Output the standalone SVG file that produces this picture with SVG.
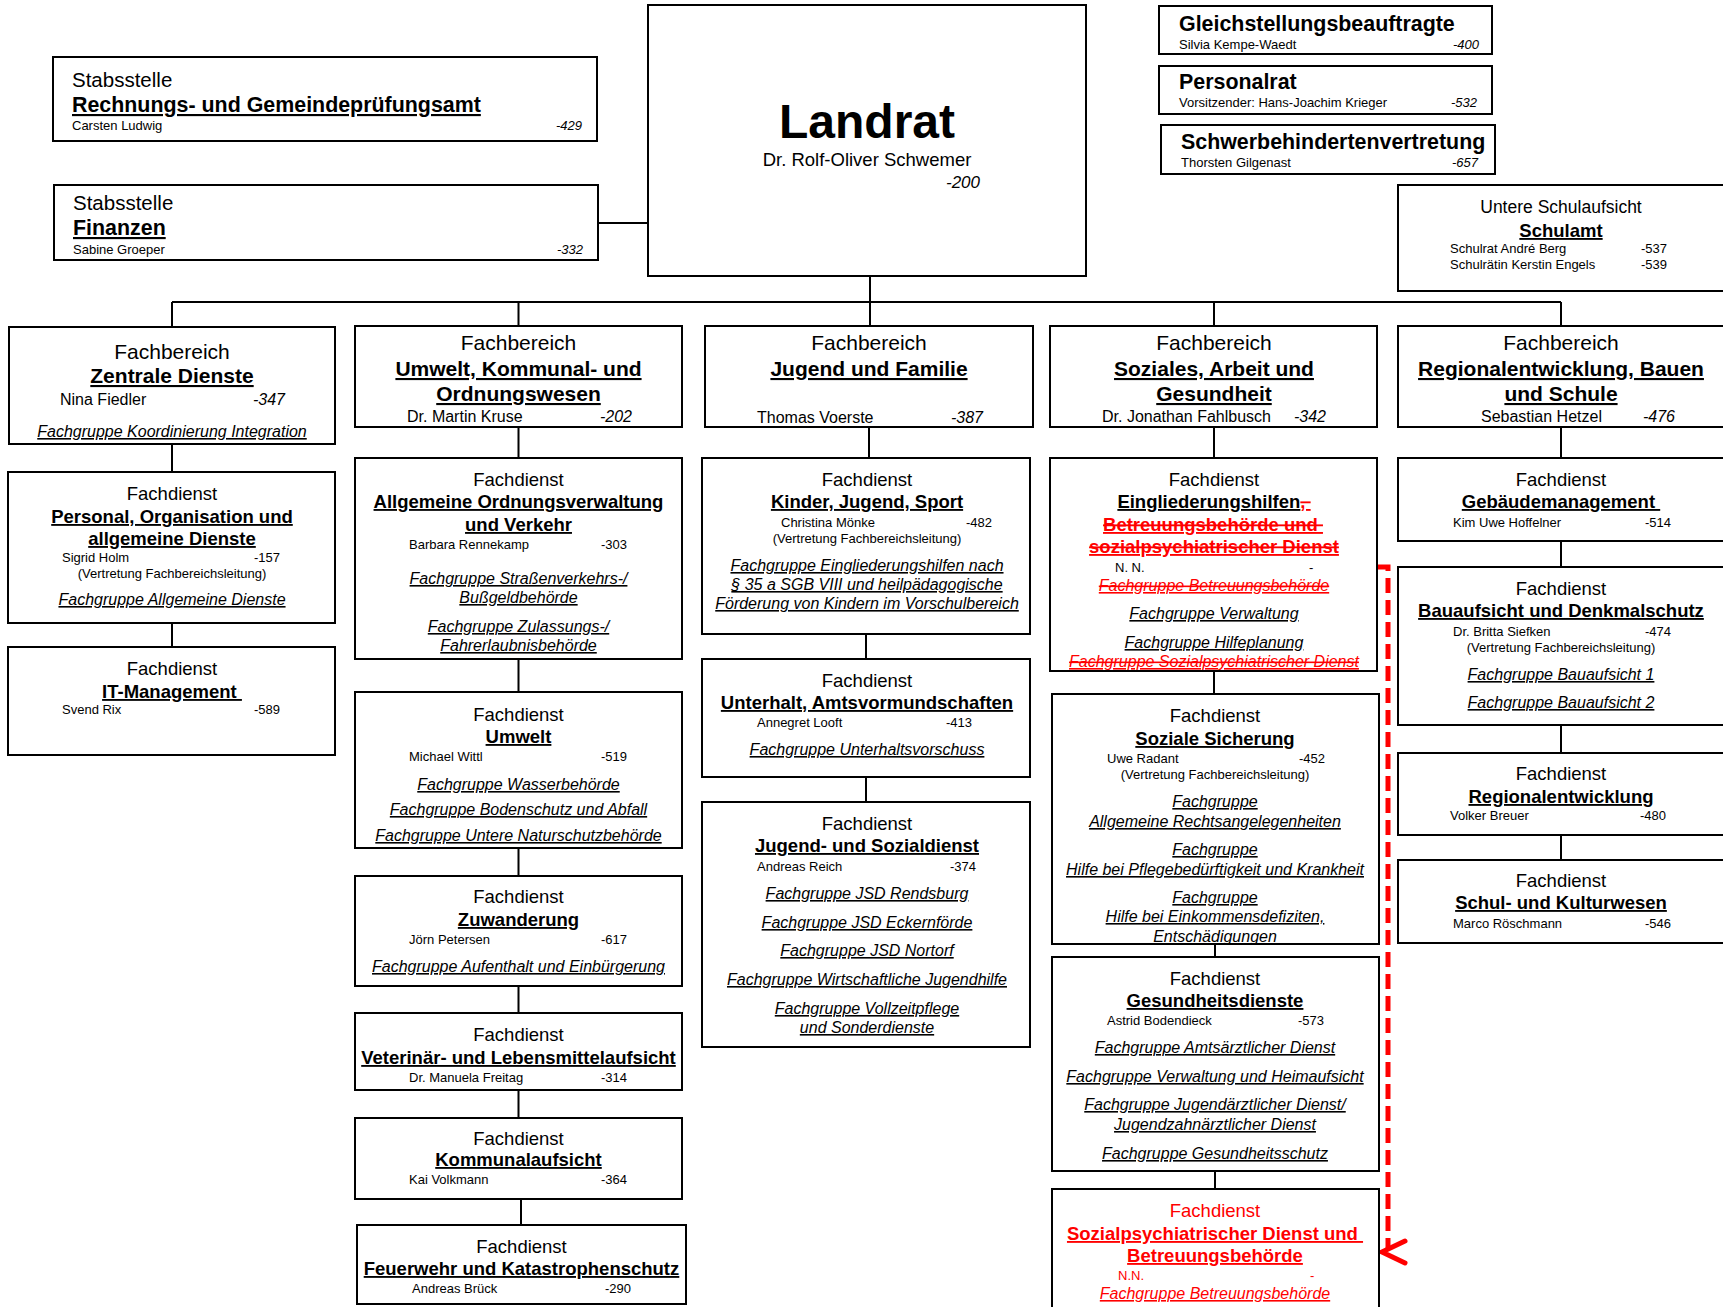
<svg xmlns="http://www.w3.org/2000/svg" width="1723" height="1307" viewBox="0 0 1723 1307" font-family="'Liberation Sans', Arial, Helvetica, sans-serif">
<style>
.box{fill:#fff;stroke:#000;stroke-width:2}
.ln{stroke:#000;stroke-width:2;fill:none}
text{fill:#000}
.c{text-anchor:middle}
.e{text-anchor:end}
.fb{font-size:21px}
.fbt{font-size:21px;font-weight:bold;text-decoration:underline}
.fbn{font-size:16px}
.fd{font-size:18.5px}
.fdt{font-size:18.5px;font-weight:bold;text-decoration:underline}
.fdb{font-size:18.5px;font-weight:bold}
.u{text-decoration:underline}
.nm{font-size:13px}
.it{font-style:italic}
.fg{font-size:16px;font-style:italic;text-decoration:underline}
.red{fill:#ff0000}
.st{text-decoration:underline line-through}
.top{font-size:21.4px;font-weight:bold}
</style>

<g id="connectors">
<path class="ln" d="M598,223 H648"/>
<path class="ln" d="M870,276 V326 M172,302 H1561 M172,302 V327 M518.5,302 V326 M1214,302 V326 M1561,302 V326"/>
<path class="ln" d="M172,444 V472 M172,623 V647"/>
<path class="ln" d="M518.5,427 V458 M518.5,659 V692 M518.5,848 V876 M518.5,986 V1013 M518.5,1090 V1118 M521,1199 V1225"/>
<path class="ln" d="M869,427 V458 M866,634 V659 M866,777 V802"/>
<path class="ln" d="M1214,427 V458 M1214,671 V694 M1215,944 V957 M1215,1171 V1189"/>
<path class="ln" d="M1561,427 V458 M1561,541 V567 M1561,725 V753 M1561,835 V860"/>
<path d="M1377,567 H1388 V1250" fill="none" stroke="#ff0000" stroke-width="5" stroke-dasharray="15 7"/>
<path d="M1405,1241 L1382,1252 L1405,1263" fill="none" stroke="#ff0000" stroke-width="5" stroke-linecap="round" stroke-linejoin="miter"/>
</g>

<g id="rpa">
<rect class="box" x="53" y="57" width="544" height="84"/>
<text x="72" y="87" style="font-size:20.5px">Stabsstelle</text>
<text class="top u" x="72" y="112">Rechnungs- und Gemeindeprüfungsamt</text>
<text class="nm" x="72" y="130">Carsten Ludwig</text>
<text class="nm it e" x="582" y="130">-429</text>
</g>

<g id="finanzen">
<rect class="box" x="54" y="185" width="544" height="75"/>
<text x="73" y="210" style="font-size:20.5px">Stabsstelle</text>
<text class="top u" x="73" y="235">Finanzen</text>
<text class="nm" x="73" y="254">Sabine Groeper</text>
<text class="nm it e" x="583" y="254">-332</text>
</g>

<g id="landrat">
<rect class="box" x="648" y="5" width="438" height="271"/>
<text class="c" x="867" y="138" style="font-size:48px;font-weight:bold">Landrat</text>
<text class="c" x="867" y="166" style="font-size:18.5px">Dr. Rolf-Oliver Schwemer</text>
<text class="e it" x="980" y="188" style="font-size:17px">-200</text>
</g>

<g id="gleichstellung">
<rect class="box" x="1159" y="6" width="333" height="48"/>
<text class="top" x="1179" y="31">Gleichstellungsbeauftragte</text>
<text class="nm" x="1179" y="48.5">Silvia Kempe-Waedt</text>
<text class="nm it e" x="1479" y="48.5">-400</text>
</g>

<g id="personalrat">
<rect class="box" x="1159" y="66" width="333" height="48"/>
<text class="top" x="1179" y="89">Personalrat</text>
<text class="nm" x="1179" y="107">Vorsitzender: Hans-Joachim Krieger</text>
<text class="nm it e" x="1477" y="107">-532</text>
</g>

<g id="schwerbehinderten">
<rect class="box" x="1161" y="125" width="334" height="49"/>
<text class="top" x="1181" y="149">Schwerbehindertenvertretung</text>
<text class="nm" x="1181" y="167">Thorsten Gilgenast</text>
<text class="nm it e" x="1478" y="167">-657</text>
</g>

<g id="schulamt">
<rect class="box" x="1398" y="185" width="340" height="106"/>
<text class="c" x="1561" y="213" style="font-size:17.5px">Untere Schulaufsicht</text>
<text class="c fdt" x="1561" y="237">Schulamt</text>
<text class="nm" x="1450" y="253">Schulrat André Berg</text>
<text class="nm" x="1641" y="253">-537</text>
<text class="nm" x="1450" y="269">Schulrätin Kerstin Engels</text>
<text class="nm" x="1641" y="269">-539</text>
</g>

<!-- Column 1 -->
<g id="fb-zentrale">
<rect class="box" x="9" y="327" width="326" height="117"/>
<text class="fb c" x="172" y="359">Fachbereich</text>
<text class="fbt c" x="172" y="383">Zentrale Dienste</text>
<text class="fbn" x="60" y="405">Nina Fiedler</text>
<text class="fbn it e" x="285" y="405">-347</text>
<text class="fg c" x="172" y="437">Fachgruppe Koordinierung Integration</text>
</g>
<g id="fd-personal">
<rect class="box" x="8" y="472" width="327" height="151"/>
<text class="fd c" x="172" y="500">Fachdienst</text>
<text class="fdt c" x="172" y="523">Personal, Organisation und</text>
<text class="fdt c" x="172" y="545">allgemeine Dienste</text>
<text class="nm" x="62" y="562">Sigrid Holm</text>
<text class="nm e" x="280" y="562">-157</text>
<text class="nm c" x="172" y="578">(Vertretung Fachbereichsleitung)</text>
<text class="fg c" x="172" y="605">Fachgruppe Allgemeine Dienste</text>
</g>
<g id="fd-it">
<rect class="box" x="8" y="647" width="327" height="108"/>
<text class="fd c" x="172" y="675">Fachdienst</text>
<text class="fdt c" x="172" y="698">IT-Management&#160;</text>
<text class="nm" x="62" y="714">Svend Rix</text>
<text class="nm e" x="280" y="714">-589</text>
</g>

<!-- Column 2 -->
<g id="fb-umwelt">
<rect class="box" x="355" y="326" width="327" height="101"/>
<text class="fb c" x="518.5" y="350">Fachbereich</text>
<text class="fbt c" x="518.5" y="376">Umwelt, Kommunal- und</text>
<text class="fbt c" x="518.5" y="401">Ordnungswesen</text>
<text class="fbn" x="407" y="422">Dr. Martin Kruse</text>
<text class="fbn it e" x="632" y="422">-202</text>
</g>
<g id="fd-ordnung">
<rect class="box" x="355" y="458" width="327" height="201"/>
<text class="fd c" x="518.5" y="486">Fachdienst</text>
<text class="fdt c" x="518.5" y="508">Allgemeine Ordnungsverwaltung</text>
<text class="fdt c" x="518.5" y="531">und Verkehr</text>
<text class="nm" x="409" y="549">Barbara Rennekamp</text>
<text class="nm e" x="627" y="549">-303</text>
<text class="fg c" x="518.5" y="584">Fachgruppe Straßenverkehrs-/</text>
<text class="fg c" x="518.5" y="603">Bußgeldbehörde</text>
<text class="fg c" x="518.5" y="632">Fachgruppe Zulassungs-/</text>
<text class="fg c" x="518.5" y="651">Fahrerlaubnisbehörde</text>
</g>
<g id="fd-umwelt">
<rect class="box" x="355" y="692" width="327" height="156"/>
<text class="fd c" x="518.5" y="721">Fachdienst</text>
<text class="fdt c" x="518.5" y="743">Umwelt</text>
<text class="nm" x="409" y="761">Michael Wittl</text>
<text class="nm e" x="627" y="761">-519</text>
<text class="fg c" x="518.5" y="790">Fachgruppe Wasserbehörde</text>
<text class="fg c" x="518.5" y="815">Fachgruppe Bodenschutz und Abfall</text>
<text class="fg c" x="518.5" y="841">Fachgruppe Untere Naturschutzbehörde</text>
</g>
<g id="fd-zuwanderung">
<rect class="box" x="355" y="876" width="327" height="110"/>
<text class="fd c" x="518.5" y="903">Fachdienst</text>
<text class="fdt c" x="518.5" y="926">Zuwanderung</text>
<text class="nm" x="409" y="944">Jörn Petersen</text>
<text class="nm e" x="627" y="944">-617</text>
<text class="fg c" x="518.5" y="972">Fachgruppe Aufenthalt und Einbürgerung</text>
</g>
<g id="fd-veterinaer">
<rect class="box" x="355" y="1013" width="327" height="77"/>
<text class="fd c" x="518.5" y="1041">Fachdienst</text>
<text class="fdt c" x="518.5" y="1064">Veterinär- und Lebensmittelaufsicht</text>
<text class="nm" x="409" y="1082">Dr. Manuela Freitag</text>
<text class="nm e" x="627" y="1082">-314</text>
</g>
<g id="fd-kommunal">
<rect class="box" x="355" y="1118" width="327" height="81"/>
<text class="fd c" x="518.5" y="1145">Fachdienst</text>
<text class="fdt c" x="518.5" y="1166">Kommunalaufsicht</text>
<text class="nm" x="409" y="1184">Kai Volkmann</text>
<text class="nm e" x="627" y="1184">-364</text>
</g>
<g id="fd-feuerwehr">
<rect class="box" x="357" y="1225" width="329" height="79"/>
<text class="fd c" x="521.5" y="1253">Fachdienst</text>
<text class="fdt c" x="521.5" y="1275">Feuerwehr und Katastrophenschutz</text>
<text class="nm" x="412" y="1293">Andreas Brück</text>
<text class="nm e" x="631" y="1293">-290</text>
</g>

<!-- Column 3 -->
<g id="fb-jugend">
<rect class="box" x="705" y="326" width="328" height="101"/>
<text class="fb c" x="869" y="350">Fachbereich</text>
<text class="fbt c" x="869" y="376">Jugend und Familie</text>
<text class="fbn" x="757" y="423">Thomas Voerste</text>
<text class="fbn it e" x="983" y="423">-387</text>
</g>
<g id="fd-kinder">
<rect class="box" x="702" y="458" width="328" height="176"/>
<text class="fd c" x="867" y="486">Fachdienst</text>
<text class="fdt c" x="867" y="508">Kinder, Jugend, Sport</text>
<text class="nm" x="781" y="527">Christina Mönke</text>
<text class="nm e" x="992" y="527">-482</text>
<text class="nm c" x="867" y="543">(Vertretung Fachbereichsleitung)</text>
<text class="fg c" x="867" y="571">Fachgruppe Eingliederungshilfen nach</text>
<text class="fg c" x="867" y="590">§ 35 a SGB VIII und heilpädagogische</text>
<text class="fg c" x="867" y="609">Förderung von Kindern im Vorschulbereich</text>
</g>
<g id="fd-unterhalt">
<rect class="box" x="702" y="659" width="328" height="118"/>
<text class="fd c" x="867" y="687">Fachdienst</text>
<text class="fdt c" x="867" y="709">Unterhalt, Amtsvormundschaften</text>
<text class="nm" x="757" y="727">Annegret Looft</text>
<text class="nm e" x="972" y="727">-413</text>
<text class="fg c" x="867" y="755">Fachgruppe Unterhaltsvorschuss</text>
</g>
<g id="fd-jsd">
<rect class="box" x="702" y="802" width="328" height="245"/>
<text class="fd c" x="867" y="830">Fachdienst</text>
<text class="fdt c" x="867" y="852">Jugend- und Sozialdienst</text>
<text class="nm" x="757" y="871">Andreas Reich</text>
<text class="nm e" x="976" y="871">-374</text>
<text class="fg c" x="867" y="899">Fachgruppe JSD Rendsburg</text>
<text class="fg c" x="867" y="928">Fachgruppe JSD Eckernförde</text>
<text class="fg c" x="867" y="956">Fachgruppe JSD Nortorf</text>
<text class="fg c" x="867" y="985">Fachgruppe Wirtschaftliche Jugendhilfe</text>
<text class="fg c" x="867" y="1014">Fachgruppe Vollzeitpflege</text>
<text class="fg c" x="867" y="1033">und Sonderdienste</text>
</g>

<!-- Column 4 -->
<g id="fb-soziales">
<rect class="box" x="1050" y="326" width="327" height="101"/>
<text class="fb c" x="1214" y="350">Fachbereich</text>
<text class="fbt c" x="1214" y="376">Soziales, Arbeit und</text>
<text class="fbt c" x="1214" y="401">Gesundheit</text>
<text class="fbn" x="1102" y="422">Dr. Jonathan Fahlbusch</text>
<text class="fbn it e" x="1326" y="422">-342</text>
</g>
<g id="fd-eingliederung">
<rect class="box" x="1050" y="458" width="327" height="213"/>
<text class="fd c" x="1214" y="486">Fachdienst</text>
<text class="fdb c" x="1214" y="508"><tspan class="u">Eingliederungshilfen</tspan><tspan class="red st">,&#160;</tspan></text>
<text class="fdb c red st" x="1213" y="531">Betreuungsbehörde und&#160;</text>
<text class="fdb c red st" x="1214" y="553">sozialpsychiatrischer Dienst</text>
<text class="nm" x="1115" y="572">N. N.</text>
<text class="nm" x="1309" y="572">-</text>
<text class="fg c red st" x="1214" y="591">Fachgruppe Betreuungsbehörde</text>
<text class="fg c" x="1214" y="619">Fachgruppe Verwaltung</text>
<text class="fg c" x="1214" y="648">Fachgruppe Hilfeplanung</text>
<text class="fg c red st" x="1214" y="667">Fachgruppe Sozialpsychiatrischer Dienst</text>
</g>
<g id="fd-sozialesicherung">
<rect class="box" x="1052" y="694" width="327" height="250"/>
<text class="fd c" x="1215" y="722">Fachdienst</text>
<text class="fdt c" x="1215" y="745">Soziale Sicherung</text>
<text class="nm" x="1107" y="763">Uwe Radant</text>
<text class="nm e" x="1325" y="763">-452</text>
<text class="nm c" x="1215" y="779">(Vertretung Fachbereichsleitung)</text>
<text class="fg c" x="1215" y="807">Fachgruppe</text>
<text class="fg c" x="1215" y="827">Allgemeine Rechtsangelegenheiten</text>
<text class="fg c" x="1215" y="855">Fachgruppe</text>
<text class="fg c" x="1215" y="875">Hilfe bei Pflegebedürftigkeit und Krankheit</text>
<text class="fg c" x="1215" y="903">Fachgruppe</text>
<text class="fg c" x="1215" y="922">Hilfe bei Einkommensdefiziten,</text>
<text class="fg c" x="1215" y="942">Entschädigungen</text>
</g>
<g id="fd-gesundheit">
<rect class="box" x="1052" y="957" width="327" height="214"/>
<text class="fd c" x="1215" y="985">Fachdienst</text>
<text class="fdt c" x="1215" y="1007">Gesundheitsdienste</text>
<text class="nm" x="1107" y="1025">Astrid Bodendieck</text>
<text class="nm e" x="1324" y="1025">-573</text>
<text class="fg c" x="1215" y="1053">Fachgruppe Amtsärztlicher Dienst</text>
<text class="fg c" x="1215" y="1082">Fachgruppe Verwaltung und Heimaufsicht</text>
<text class="fg c" x="1215" y="1110">Fachgruppe Jugendärztlicher Dienst/</text>
<text class="fg c" x="1215" y="1130">Jugendzahnärztlicher Dienst</text>
<text class="fg c" x="1215" y="1159">Fachgruppe Gesundheitsschutz</text>
</g>
<g id="fd-sozialpsychiatrie">
<rect class="box" x="1052" y="1189" width="327" height="130"/>
<text class="fd c red" x="1215" y="1217">Fachdienst</text>
<text class="fdt c red" x="1215" y="1240">Sozialpsychiatrischer Dienst und&#160;</text>
<text class="fdt c red" x="1215" y="1262">Betreuungsbehörde</text>
<text class="nm red" x="1118" y="1280">N.N.</text>
<text class="nm red" x="1310" y="1280">-</text>
<text class="fg c red" x="1215" y="1299">Fachgruppe Betreuungsbehörde</text>
</g>

<!-- Column 5 -->
<g id="fb-regional">
<rect class="box" x="1398" y="326" width="340" height="101"/>
<text class="fb c" x="1561" y="350">Fachbereich</text>
<text class="fbt c" x="1561" y="376">Regionalentwicklung, Bauen</text>
<text class="fbt c" x="1561" y="401">und Schule</text>
<text class="fbn" x="1481" y="422">Sebastian Hetzel</text>
<text class="fbn it e" x="1675" y="422">-476</text>
</g>
<g id="fd-gebaeude">
<rect class="box" x="1398" y="458" width="340" height="83"/>
<text class="fd c" x="1561" y="486">Fachdienst</text>
<text class="fdt c" x="1561" y="508">Gebäudemanagement&#160;</text>
<text class="nm" x="1453" y="527">Kim Uwe Hoffelner</text>
<text class="nm e" x="1671" y="527">-514</text>
</g>
<g id="fd-bauaufsicht">
<rect class="box" x="1398" y="567" width="340" height="158"/>
<text class="fd c" x="1561" y="595">Fachdienst</text>
<text class="fdt c" x="1561" y="617">Bauaufsicht und Denkmalschutz</text>
<text class="nm" x="1453" y="636">Dr. Britta Siefken</text>
<text class="nm e" x="1671" y="636">-474</text>
<text class="nm c" x="1561" y="652">(Vertretung Fachbereichsleitung)</text>
<text class="fg c" x="1561" y="680">Fachgruppe Bauaufsicht 1</text>
<text class="fg c" x="1561" y="708">Fachgruppe Bauaufsicht 2</text>
</g>
<g id="fd-regional">
<rect class="box" x="1398" y="753" width="340" height="82"/>
<text class="fd c" x="1561" y="780">Fachdienst</text>
<text class="fdt c" x="1561" y="803">Regionalentwicklung</text>
<text class="nm" x="1450" y="820">Volker Breuer</text>
<text class="nm e" x="1666" y="820">-480</text>
</g>
<g id="fd-schul">
<rect class="box" x="1398" y="860" width="340" height="83"/>
<text class="fd c" x="1561" y="887">Fachdienst</text>
<text class="fdt c" x="1561" y="909">Schul- und Kulturwesen</text>
<text class="nm" x="1453" y="928">Marco Röschmann</text>
<text class="nm e" x="1671" y="928">-546</text>
</g>
</svg>
